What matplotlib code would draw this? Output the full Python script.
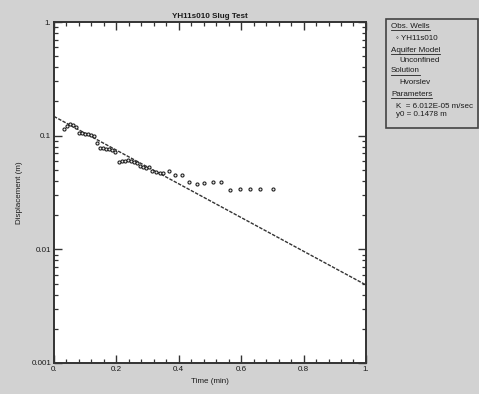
import matplotlib
matplotlib.use("Agg")
from matplotlib import pyplot as plt
from matplotlib.lines import Line2D
from matplotlib.ticker import FixedLocator, MultipleLocator, NullFormatter
import numpy as np

# Slug test data: time (min) vs displacement (m)
time_min = [0.032, 0.042, 0.051, 0.061, 0.071, 0.080, 0.090, 0.099, 0.109, 0.119,
            0.128, 0.138, 0.147, 0.157, 0.167, 0.176, 0.186, 0.196, 0.208, 0.218,
            0.228, 0.237, 0.247, 0.256, 0.266, 0.276, 0.285, 0.295, 0.304, 0.314,
            0.327, 0.340, 0.349, 0.369, 0.388, 0.410, 0.433, 0.458, 0.481, 0.510,
            0.535, 0.564, 0.596, 0.628, 0.660, 0.702]
displacement = [0.1146, 0.1217, 0.1267, 0.1242, 0.1193, 0.1056, 0.1056, 0.1035, 0.1035, 0.1014,
                0.0994, 0.0862, 0.0779, 0.0779, 0.0764, 0.0764, 0.0748, 0.0719, 0.0587, 0.0599,
                0.0599, 0.0611, 0.0599, 0.0587, 0.0575, 0.0541, 0.0530, 0.0520, 0.0530, 0.0489,
                0.0479, 0.0470, 0.0470, 0.0489, 0.0451, 0.0451, 0.0392, 0.0376, 0.0384, 0.0392,
                0.0392, 0.0333, 0.0340, 0.0340, 0.0340, 0.0340]

# Hvorslev fit (straight line on semi-log axes)
fit_t = [0.0, 1.0]
fit_y = [0.1478, 0.00486]

title = "YH11s010 Slug Test"
xticks = [0, 0.2, 0.4, 0.6, 0.8, 1.0]
xticklabels = ["0.", "0.2", "0.4", "0.6", "0.8", "1."]
yticks = [0.001, 0.01, 0.1, 1.0]
yticklabels = ["0.001", "0.01", "0.1", "1."]

bg = "#d2d2d2"
ink = "#333333"
plt.rcParams["font.family"] = ["Liberation Sans", "DejaVu Sans"]

fig = plt.figure(figsize=(4.79, 3.94), dpi=100, facecolor=bg)
ax = fig.add_axes([0.1127, 0.0787, 0.6513, 0.8653])
ax.set_facecolor("white")

ax.plot(fit_t, fit_y, color=ink, lw=1.0, ls=(0, (2.5, 1)))
ax.plot(time_min, displacement, ls="none", marker="o", ms=2.2, mfc="#eeeeee",
        mec="#222222", mew=0.8)

ax.set_yscale("log")
ax.set_xlim(0, 1)
ax.set_ylim(0.001, 1)

ax.set_xticks(xticks)
ax.set_xticklabels(xticklabels)
ax.xaxis.set_minor_locator(MultipleLocator(0.04))
ax.set_yticks(yticks)
ax.set_yticklabels(yticklabels)
ax.yaxis.set_minor_locator(FixedLocator(
    [m * 10.0 ** e for e in (-3, -2, -1) for m in range(2, 10)]))
ax.yaxis.set_minor_formatter(NullFormatter())

ax.tick_params(which="both", direction="in", top=True, right=True,
               color=ink, labelsize=5.8, labelcolor="#1a1a1a", pad=2)
ax.tick_params(which="major", length=6, width=1.0)
ax.tick_params(which="minor", length=3, width=0.9)
for s in ax.spines.values():
    s.set_color(ink)
    s.set_linewidth(1.4)

ax.set_title(title, fontsize=5.8, fontweight="bold", color="#1a1a1a", pad=3)
ax.set_xlabel("Time (min)", fontsize=5.8, color="#1a1a1a", labelpad=4)
ax.set_ylabel("Displacement (m)", fontsize=5.8, color="#1a1a1a", labelpad=6)

# info box on the right
box = plt.Rectangle((386 / 479, 1 - 128 / 394), 92 / 479, 109 / 394,
                    transform=fig.transFigure, fill=False, ec="#444444", lw=1.2)
fig.add_artist(box)

lines = [
    ("Obs. Wells", 26, True, 391),
    ("\u25e6 YH11s010", 38, False, 396),
    ("Aquifer Model", 50, True, 391),
    ("Unconfined", 60, False, 399),
    ("Solution", 71, True, 391),
    ("Hvorslev", 82, False, 399),
    ("Parameters", 94, True, 391),
    ("K  = 6.012E-05 m/sec", 106, False, 396),
    ("y0 = 0.1478 m", 115, False, 396),
]
texts = []
for txt, ypx, under, xpx in lines:
    t = fig.text(xpx / 479, 1 - ypx / 394, txt, fontsize=5.8, color="#1a1a1a",
                 va="center", ha="left")
    texts.append((t, under))

fig.canvas.draw()
r = fig.canvas.get_renderer()
for t, under in texts:
    if under:
        bb = t.get_window_extent(r).transformed(fig.transFigure.inverted())
        fig.add_artist(Line2D([bb.x0, bb.x1], [bb.y0 - 0.002, bb.y0 - 0.002],
                              transform=fig.transFigure, color="#222222", lw=0.6))

fig.savefig("out.png", dpi=100, facecolor=bg)
